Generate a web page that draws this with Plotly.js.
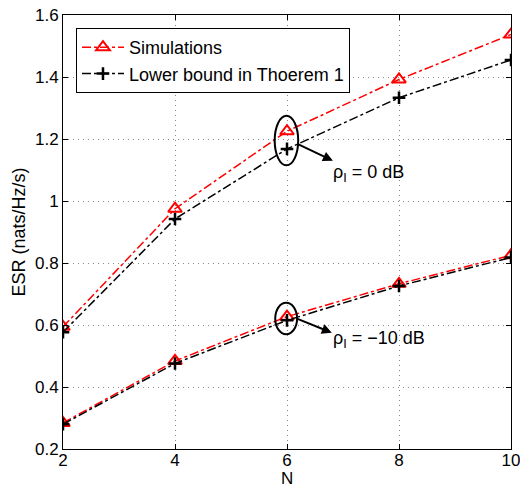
<!DOCTYPE html>
<html>
<head>
<meta charset="utf-8">
<script src="https://cdn.plot.ly/plotly-3.0.1.min.js"></script>
<style>html,body{margin:0;padding:0;background:#fff;}</style>
</head>
<body>
<div id="chart" style="width:520px;height:491px;"></div>
<script>
const N = [2, 4, 6, 8, 10];
const sim0dB = [0.594, 0.975, 1.225, 1.392, 1.537];
const lb0dB = [0.577, 0.942, 1.168, 1.333, 1.455];
const sim10dB = [0.284, 0.484, 0.627, 0.733, 0.825];
const lb10dB = [0.280, 0.476, 0.615, 0.726, 0.818];
const simName = "Simulations";
const lbName = "Lower bound in Thoerem 1";

const simStyle = {
  mode: "lines+markers",
  line: {color: "#ff0000", width: 1.5, dash: "dashdot"},
  marker: {symbol: "triangle-up-open", size: 12, color: "#ff0000", line: {width: 2, color: "#ff0000"}}
};
const lbStyle = {
  mode: "lines+markers",
  line: {color: "#000000", width: 1.5, dash: "dashdot"},
  marker: {symbol: "cross-thin-open", size: 9, color: "#000000", line: {width: 2.5, color: "#000000"}}
};

const traces = [
  Object.assign({x: N, y: sim0dB, name: simName, legendgroup: "s", showlegend: true}, simStyle),
  Object.assign({x: N, y: lb0dB, name: lbName, legendgroup: "l", showlegend: true}, lbStyle),
  Object.assign({x: N, y: sim10dB, name: simName, legendgroup: "s", showlegend: false}, simStyle),
  Object.assign({x: N, y: lb10dB, name: lbName, legendgroup: "l", showlegend: false}, lbStyle)
];

const font = {family: "Liberation Sans, Arial, sans-serif", size: 18, color: "#000"};
const tickFont = {family: "Liberation Sans, Arial, sans-serif", size: 17, color: "#000"};

const layout = {
  width: 520, height: 491,
  margin: {l: 63, r: 9, t: 15, b: 42},
  paper_bgcolor: "#fff", plot_bgcolor: "#fff",
  font: font,
  showlegend: true,
  legend: {x: 0.029, y: 0.97, xanchor: "left", yanchor: "top",
    bordercolor: "#000", borderwidth: 1, bgcolor: "#fff",
    font: {family: font.family, size: 18, color: "#000"}, tracegroupgap: 0,
    itemwidth: 42},
  xaxis: {
    range: [2, 10], tickvals: [2, 4, 6, 8, 10],
    showgrid: true, gridcolor: "#888", griddash: "1px,4px", gridwidth: 1,
    zeroline: false, showline: true, linecolor: "#000", linewidth: 1, mirror: "ticks",
    ticks: "inside", ticklen: 5, tickcolor: "#000",
    tickfont: tickFont, ticklabeloverflow: "allow", automargin: false,
    ticklabelstandoff: -4
  },
  yaxis: {
    range: [0.2, 1.6], tickvals: [0.2, 0.4, 0.6, 0.8, 1, 1.2, 1.4, 1.6],
    ticktext: ["0.2", "0.4", "0.6", "0.8", "1", "1.2", "1.4", "1.6"],
    showgrid: true, gridcolor: "#888", griddash: "1px,4px", gridwidth: 1,
    zeroline: false, showline: true, linecolor: "#000", linewidth: 1, mirror: "ticks",
    ticks: "inside", ticklen: 5, tickcolor: "#000",
    tickfont: tickFont, ticklabeloverflow: "allow", automargin: false,
    title: {text: "ESR (nats/Hz/s)", font: font, standoff: 4}
  },
  shapes: [
    {type: "circle", xref: "x", yref: "y", x0: 5.78, x1: 6.2, y0: 1.115, y1: 1.275,
      line: {color: "#000", width: 2}},
    {type: "circle", xref: "x", yref: "y", x0: 5.79, x1: 6.18, y0: 0.57, y1: 0.672,
      line: {color: "#000", width: 2}}
  ],
  annotations: [
    {x: 0.5, y: 0, xref: "paper", yref: "paper", xanchor: "center", yanchor: "bottom",
      yshift: -41, showarrow: false, text: "N",
      font: {family: font.family, size: 17, color: "#000"}},
    {x: 6.82, y: 1.13, xref: "x", yref: "y", ax: -36, ay: -17, axref: "pixel", ayref: "pixel",
      showarrow: true, arrowhead: 2, arrowsize: 1, arrowwidth: 2, arrowcolor: "#000", text: ""},
    {x: 6.8, y: 0.575, xref: "x", yref: "y", ax: -37, ay: -15, axref: "pixel", ayref: "pixel",
      showarrow: true, arrowhead: 2, arrowsize: 1, arrowwidth: 2, arrowcolor: "#000", text: ""},
    {x: 6.78, y: 1.09, xref: "x", yref: "y", xanchor: "left", yanchor: "middle", showarrow: false,
      text: "ρ<sub>I</sub> = 0 dB", font: font},
    {x: 6.78, y: 0.553, xref: "x", yref: "y", xanchor: "left", yanchor: "middle", showarrow: false,
      text: "ρ<sub>I</sub> = −10 dB", font: font}
  ]
};

Plotly.newPlot("chart", traces, layout, {displayModeBar: false, staticPlot: true});
</script>
</body>
</html>
